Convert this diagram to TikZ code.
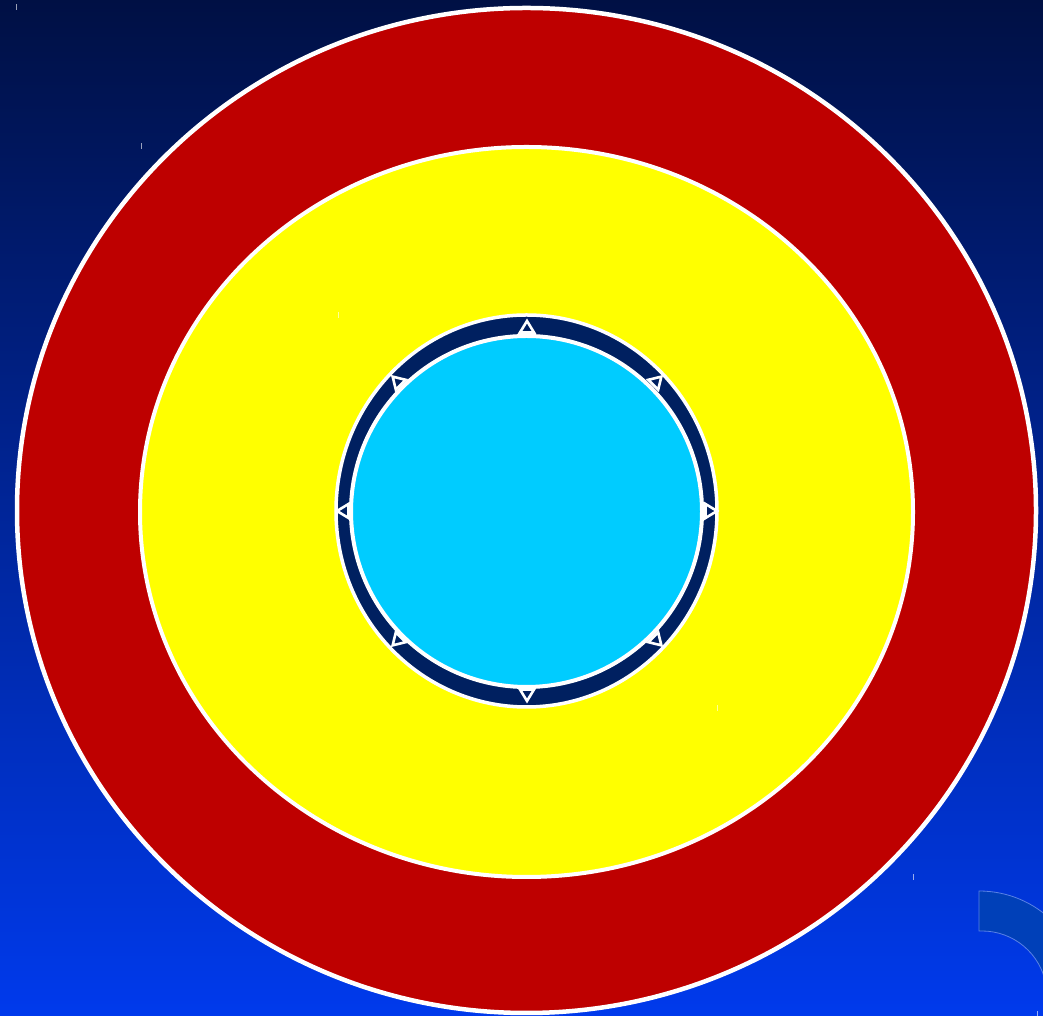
\documentclass[tikz,border=0pt]{standalone}
\definecolor{bgtop}{RGB}{0,16,68}
\definecolor{bgbot}{RGB}{0,58,236}
\definecolor{ringred}{RGB}{190,0,0}
\definecolor{ringyel}{RGB}{255,255,0}
\definecolor{ringnavy}{RGB}{0,32,96}
\definecolor{corecyan}{RGB}{0,204,255}
\definecolor{cornerfill}{RGB}{0,64,184}
\definecolor{cornerline}{RGB}{90,130,230}
\tikzset{
  band/.style={draw=white, line width=#1},
  band/.default=3pt,
  marker/.style={draw=white, line width=2.6pt, fill=ringnavy, line join=miter},
  tick/.style={draw=white, line width=1pt, opacity=0.6}
}
\begin{document}
\begin{tikzpicture}[x=1pt,y=1pt]
\useasboundingbox (0,0) rectangle (1043,1016);
\clip (0,0) rectangle (1043,1016);
% background gradient
\shade[top color=bgtop, bottom color=bgbot] (0,0) rectangle (1043,1016);
% corner ring segment
\fill[cornerfill, draw=cornerline, line width=0.8pt]
  (979,85) -- (979,125) arc[start angle=90, end angle=0, radius=105]
  -- (1046,20) -- (1046,31.4) arc[start angle=10.1, end angle=90, radius=65] -- cycle;
% rings
\draw[band=4.5pt, fill=ringred] (526.5,505.5) ellipse[x radius=509.5, y radius=502.5];
\draw[band=4pt, fill=ringyel] (526.5,504) ellipse[x radius=386.5, y radius=365];
\draw[band=3.5pt, fill=ringnavy] (526.5,505) ellipse[x radius=190.5, y radius=196];
\draw[band=4pt, fill=corecyan] (526.5,504.5) circle[radius=175.5];
% markers on the navy ring
\coordinate (c) at (527,505);
\foreach \a in {0,45,...,315}{
  \begin{scope}[shift={(c)}, rotate=\a]
    \draw[marker] (178.5,-7) -- (190,0) -- (178.5,7) -- cycle;
  \end{scope}
}
% small stray marks
\foreach \px/\py in {16/7, 141/146, 338/315, 717/708, 913/877, 1037/1014}{
  \draw[tick] (\px,1016-\py-3) -- (\px,1016-\py+3);
}
\end{tikzpicture}
\end{document}
